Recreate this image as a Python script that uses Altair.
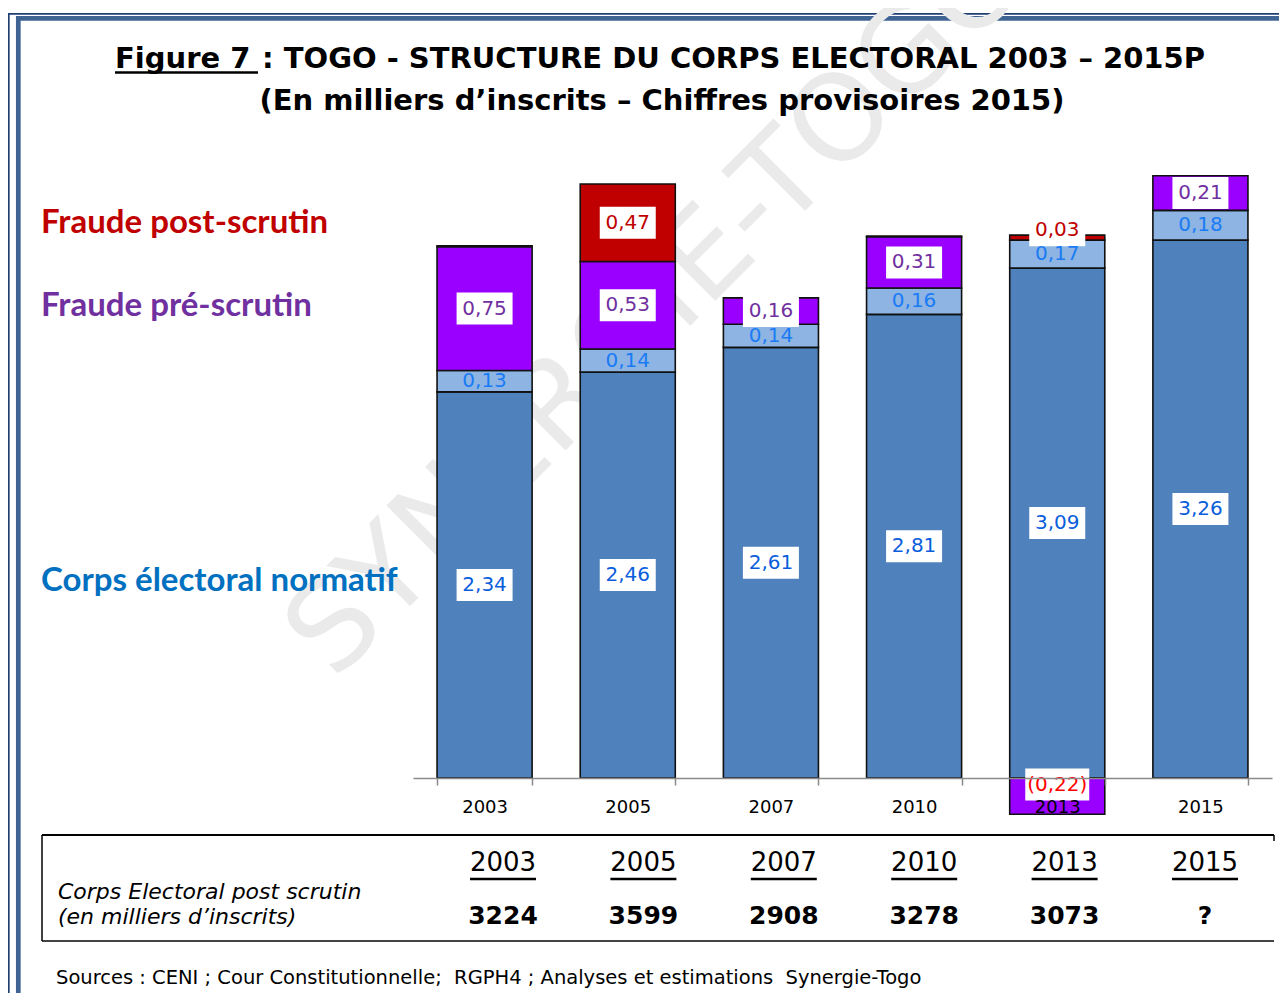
import altair as alt
import pandas as pd

# ---------------- data (millions d'inscrits) ----------------
years = ["2003", "2005", "2007", "2010", "2013", "2015"]
normatif = [2.34, 2.46, 2.61, 2.81, 3.09, 3.26]
additionnel = [0.13, 0.14, 0.14, 0.16, 0.17, 0.18]
pre_scrutin = [0.75, 0.53, 0.16, 0.31, -0.22, 0.21]
post_scrutin = [0.005, 0.47, 0.0, 0.005, 0.03, 0.0]
post_labelled = [False, True, False, False, True, False]

table_years = ["2003", "2005", "2007", "2010", "2013", "2015"]
table_values = ["3224", "3599", "2908", "3278", "3073", "?"]

seg_names = ["normatif", "additionnel", "pre", "post"]
seg_colors = ["#4F81BD", "#8DB4E2", "#9900FF", "#C00000"]
kind_names = ["normatif", "additionnel", "pre", "post", "neg"]
kind_colors = ["#0B5EDB", "#1A7BF5", "#7030A0", "#C00000", "#FF0000"]


def fr(v):
    s = f"{abs(v):.2f}".replace(".", ",")
    return f"({s})" if v < 0 else s


rows = []
for i, yr in enumerate(years):
    pos, neg = 0.0, 0.0
    for seg, vals, lab in [
        ("normatif", normatif, True),
        ("additionnel", additionnel, True),
        ("pre", pre_scrutin, True),
        ("post", post_scrutin, post_labelled[i]),
    ]:
        v = vals[i]
        if v == 0:
            continue
        if v > 0:
            y0, y1 = pos, pos + v
            pos = y1
        else:
            y0, y1 = neg, neg + v
            neg = y1
        rows.append(dict(year=yr, seg=seg, y0=y0, y1=y1,
                         label=fr(v) if lab else "",
                         kind="neg" if v < 0 else seg))
df = pd.DataFrame(rows)
tdf = pd.DataFrame({"year": table_years, "val": table_values})
one = pd.DataFrame({"k": [0]})

# label placement: centred in the segment; thin segments get their label just above,
# the negative segment gets its label just under the baseline
LABPOS = ("datum.y1 < 0 ? datum.y0 - 0.04 : "
          "(abs(datum.y1 - datum.y0) < 0.1 ? datum.y1 + 0.03 : (datum.y0 + datum.y1) / 2)")

# ---------------- scales ----------------
X = alt.X("year:N", sort=years,
          scale=alt.Scale(domain=years, range=[405, 1264], paddingInner=0.336, paddingOuter=0.168),
          axis=alt.Axis(title=None, labelAngle=0, labelFont="DejaVu Sans", labelFontSize=18,
                        labelColor="black", labelPadding=13, domainColor="#8a8a8a", domainWidth=1.5,
                        tickColor="#8a8a8a", tickWidth=1.5, tickSize=7, tickBand="extent", grid=False,
                        zindex=1))
YS = alt.Scale(domain=[0, 770 / 165], nice=False, zero=False)

bars = alt.Chart(df).mark_bar(stroke="#111111", strokeWidth=1.6).encode(
    x=X,
    y=alt.Y("y0:Q", scale=YS, axis=None),
    y2="y1:Q",
    color=alt.Color("seg:N", scale=alt.Scale(domain=seg_names, range=seg_colors), legend=None),
)

box_std = "M-1.75,-1L1.75,-1L1.75,1L-1.75,1Z"
box_wide = "M-2,-1L2,-1L2,1L-2,1Z"
boxes = alt.Chart(df).transform_filter(
    "datum.label != '' && datum.seg != 'additionnel'"
).transform_calculate(lp=LABPOS).mark_point(
    filled=True, fill="white", opacity=1, strokeWidth=0, size=1024
).encode(
    x=X,
    y=alt.Y("lp:Q", scale=YS, axis=None),
    shape=alt.Shape("kind:N", scale=alt.Scale(domain=["normatif", "pre", "post", "neg"],
                                              range=[box_std, box_std, box_std, box_wide]), legend=None),
)

labels = alt.Chart(df).transform_filter("datum.label != ''").transform_calculate(lp=LABPOS).mark_text(
    font="DejaVu Sans", fontSize=20, baseline="middle"
).encode(
    x=X,
    y=alt.Y("lp:Q", scale=YS, axis=None),
    text="label:N",
    color=alt.Color("kind:N", scale=alt.Scale(domain=kind_names, range=kind_colors), legend=None),
)

bar_group = alt.layer(bars, boxes, labels).resolve_scale(color="independent")

# ---------------- table ----------------
TX = alt.X("year:N", sort=table_years,
           scale=alt.Scale(type="point", domain=table_years, range=[495, 1197], padding=0), axis=None)
t_years = alt.Chart(tdf).mark_text(font="DejaVu Sans", fontSize=26, baseline="middle", color="black").encode(
    x=TX, y=alt.value(855), text="year:N")
t_ul = alt.Chart(tdf).mark_point(shape="stroke", size=66 * 66, color="black", strokeWidth=2.5,
                                 opacity=1, filled=False).encode(x=TX, y=alt.value(871))
t_vals = alt.Chart(tdf).mark_text(font="DejaVu Sans", fontSize=25, fontWeight="bold", baseline="middle",
                                  color="black").encode(x=TX, y=alt.value(908), text="val:N")
table_group = alt.layer(t_years, t_ul, t_vals)


# ---------------- decorations ----------------
def rule(x, x2, y, y2, color, w):
    return alt.Chart(one).mark_rule(color=color, strokeWidth=w).encode(
        x=alt.value(x), x2=alt.value(x2), y=alt.value(y), y2=alt.value(y2))


def txt(s, x, y, **kw):
    kw.setdefault("baseline", "alphabetic")
    return alt.Chart(one).mark_text(text=s, **kw).encode(x=alt.value(x), y=alt.value(y))


frame = [
    rule(0.8, 0.8, 5, 985, "#1F3F73", 1.7),
    rule(0, 1271, 5.8, 5.8, "#1F3F73", 1.7),
    rule(10.3, 10.3, 8, 985, "#3F6494", 4.7),
    rule(8, 1271, 10.3, 10.3, "#3F6494", 4.7),
]

watermark = txt("SYNERGIE-TOGO", 651, 298, font="DejaVu Sans", fontSize=120, angle=315,
                align="center", baseline="middle", color="#eaeaea")

texts = [
    txt("Figure 7", 107, 60, font="DejaVu Sans", fontSize=29, fontWeight="bold", align="left", color="black"),
    rule(107, 250, 64.5, 64.5, "black", 2.5),
    txt(": TOGO - STRUCTURE DU CORPS ELECTORAL 2003 \u2013 2015P", 254, 60, font="DejaVu Sans", fontSize=29,
        fontWeight="bold", align="left", color="black"),
    txt("(En milliers d\u2019inscrits \u2013 Chiffres provisoires 2015)", 654, 102, font="DejaVu Sans",
        fontSize=29, fontWeight="bold", align="center", color="black"),
    txt("Fraude post-scrutin", 33, 225, font="Lato", fontSize=33, fontWeight="bold", align="left",
        color="#C00000"),
    txt("Fraude pr\u00e9-scrutin", 33, 308, font="Lato", fontSize=33, fontWeight="bold", align="left",
        color="#7030A0"),
    txt("Corps \u00e9lectoral normatif", 33, 583, font="Lato", fontSize=33, fontWeight="bold", align="left",
        color="#0070C0"),
    rule(34, 1266, 827, 827, "black", 2),
    rule(34, 1266, 933, 933, "#444444", 2),
    rule(34, 34, 827, 933, "black", 1.5),
    rule(1266, 1266, 827, 833, "black", 1.5),
    txt("Corps Electoral post scrutin", 50, 891, font="DejaVu Sans", fontSize=22, fontStyle="italic",
        align="left", color="black"),
    txt("(en milliers d\u2019inscrits)", 50, 916, font="DejaVu Sans", fontSize=22, fontStyle="italic",
        align="left", color="black"),
    txt("Sources : CENI ; Cour Constitutionnelle;\u00a0 RGPH4 ; Analyses et estimations\u00a0 Synergie-Togo",
        48, 976, font="DejaVu Sans", fontSize=19.5, align="left", color="black"),
]

chart = alt.layer(*frame, watermark, bar_group, table_group, *texts).resolve_scale(
    x="independent"
).properties(
    width=1271, height=770,
    autosize=alt.AutoSizeParams(type="none"),
    padding={"left": 0, "top": 0, "right": 0, "bottom": 215},
).configure_view(stroke=None)

chart.save("out.html", embed_options={"renderer": "svg", "actions": False})
